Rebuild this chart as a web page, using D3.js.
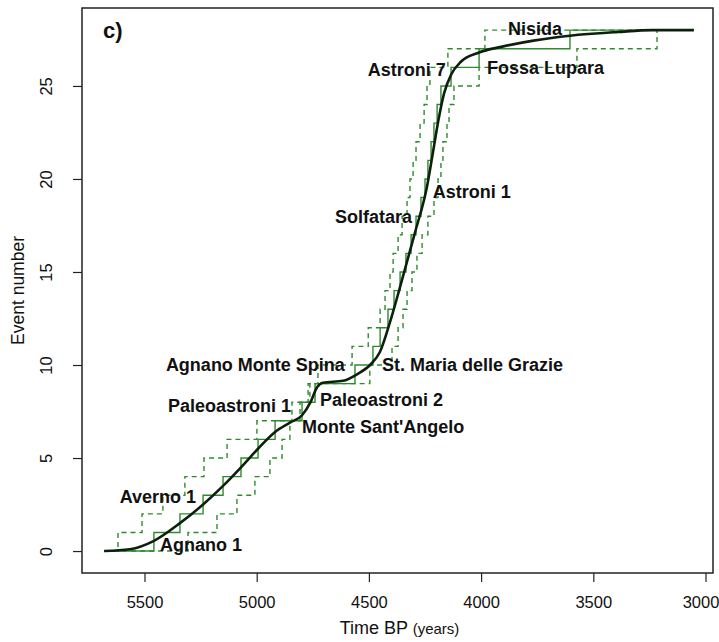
<!DOCTYPE html>
<html>
<head>
<meta charset="utf-8">
<script src="https://cdn.jsdelivr.net/npm/d3@7"></script>
<style>
body { margin: 0; background: #fff; }
svg { display: block; }
text { font-family: "Liberation Sans", Arial, sans-serif; fill: #111; }
</style>
</head>
<body>
<svg width="719" height="642"></svg>
<script>
var width = 719;
var height = 642;

// first / last time of the record (years BP)
var tStart = 5680;
var tEnd = 3052;

// time of each event (1..28), median and bounds
var medianTimes = [5458, 5342, 5239, 5150, 5070, 4994, 4918, 4798, 4740, 4562,
    4482, 4450, 4415, 4388, 4361, 4335, 4312, 4290, 4268, 4250,
    4237, 4223, 4210, 4196, 4179, 4134, 4009, 3604];
var lowerTimes = [5618, 5511, 5418, 5320, 5235, 5132, 4999, 4843, 4771, 4727,
    4575, 4503, 4450, 4428, 4406, 4392, 4370, 4352, 4330, 4317,
    4303, 4290, 4272, 4254, 4241, 4228, 4148, 3983];
var upperTimes = [5306, 5177, 5088, 5008, 4941, 4887, 4852, 4807, 4763, 4496,
    4397, 4370, 4348, 4330, 4308, 4286, 4263, 4237, 4210, 4192,
    4179, 4170, 4152, 4143, 4121, 4009, 3573, 3216];

// smoothed rate curve
var curveTimes = [5680, 5565, 5458, 5342, 5239, 5150, 5070, 4994, 4918, 4852,
    4798, 4760, 4731, 4705, 4615, 4553, 4495, 4451, 4406, 4361,
    4295, 4241, 4215, 4188, 4165, 4134, 4090, 4009, 3911, 3760,
    3604, 3390, 3239, 3052];
var curveEvents = [0, 0.1, 0.55, 1.5, 2.5, 3.5, 4.5, 5.5, 6.4, 6.9,
    7.3, 8.0, 8.8, 9.05, 9.15, 9.5, 10.0, 10.7, 12.3, 14.2,
    17.1, 19.6, 21.4, 23.3, 24.6, 25.6, 26.3, 26.8, 27.1, 27.45,
    27.7, 27.9, 28.0, 28.0];

// eruption labels: name, time, event level, which side of the anchor
var labelNames = ["Agnano 1", "Averno 1", "Paleoastroni 1", "Monte Sant'Angelo",
    "Paleoastroni 2", "Agnano Monte Spina", "St. Maria delle Grazie",
    "Solfatara", "Astroni 1", "Astroni 7", "Fossa Lupara", "Nisida"];
var labelTimes = [5431, 5270, 4847, 4798, 4718, 4607, 4442, 4308, 4215, 4157, 3974, 3880];
var labelEvents = [0.32, 2.9, 7.8, 6.67, 8.12, 10.0, 10.0, 17.96, 19.3, 25.86, 25.97, 28.06];
var labelSides = ["right", "left", "left", "right", "right", "left", "right",
    "left", "right", "left", "right", "right"];

var xTicks = [5500, 5000, 4500, 4000, 3500, 3000];
var yTicks = [0, 5, 10, 15, 20, 25];

//----------------------------------------------------------------------------
// scales
//----------------------------------------------------------------------------
var plot = {left: 82, right: 713, top: 8, bottom: 573};

var x = d3.scaleLinear()
    .domain([5778.5, 2966.6])
    .range([plot.left, plot.right]);

var y = d3.scaleLinear()
    .domain([-1.18, 29.19])
    .range([plot.bottom, plot.top]);

var svg = d3.select("svg");

//----------------------------------------------------------------------------
// step functions + curve
//----------------------------------------------------------------------------
function stepPoints(times) {
    var pts = [[tStart, 0]];
    times.forEach(function(t, i) { pts.push([t, i + 1]); });
    pts.push([tEnd, times.length]);
    return pts;
}

var stepLine = d3.line()
    .x(function(d) { return x(d[0]); })
    .y(function(d) { return y(d[1]); })
    .curve(d3.curveStepAfter);

var green = "#2f8a2f";

[lowerTimes, upperTimes].forEach(function(times) {
    svg.append("path")
        .attr("d", stepLine(stepPoints(times)))
        .attr("fill", "none")
        .attr("stroke", green)
        .attr("stroke-width", 1.4)
        .attr("stroke-dasharray", "5,4");
});

svg.append("path")
    .attr("d", stepLine(stepPoints(medianTimes)))
    .attr("fill", "none")
    .attr("stroke", green)
    .attr("stroke-width", 1.4);

var smooth = d3.line()
    .x(function(d, i) { return x(curveTimes[i]); })
    .y(function(d) { return y(d); })
    .curve(d3.curveMonotoneX);

svg.append("path")
    .attr("d", smooth(curveEvents))
    .attr("fill", "none")
    .attr("stroke", "#0d1f0d")
    .attr("stroke-width", 2.6)
    .attr("stroke-linejoin", "round");

//----------------------------------------------------------------------------
// labels
//----------------------------------------------------------------------------
svg.selectAll("text.lab")
    .data(labelNames)
    .enter()
    .append("text")
    .attr("class", "lab")
    .attr("x", function(d, i) { return x(labelTimes[i]); })
    .attr("y", function(d, i) { return y(labelEvents[i]); })
    .attr("dy", "0.35em")
    .attr("text-anchor", function(d, i) { return labelSides[i] == "left" ? "end" : "start"; })
    .style("font-size", "18px")
    .style("font-weight", "bold")
    .text(function(d) { return d; });

svg.append("text")
    .attr("x", 103)
    .attr("y", 30)
    .attr("dy", "0.35em")
    .style("font-size", "22px")
    .style("font-weight", "bold")
    .text("c)");

//----------------------------------------------------------------------------
// axes + box
//----------------------------------------------------------------------------
var xAxis = svg.append("g")
    .attr("transform", "translate(0," + plot.bottom + ")")
    .call(d3.axisBottom(x).tickValues(xTicks).tickSize(9).tickPadding(14).tickFormat(d3.format("d")));
xAxis.select(".domain").remove();
// last label would run past the page edge
xAxis.selectAll(".tick text").filter(function(d) { return d == 3000; })
    .attr("dx", -5);

var yAxis = svg.append("g")
    .attr("transform", "translate(" + plot.left + ",0)")
    .call(d3.axisLeft(y).tickValues(yTicks).tickSize(9).tickFormat(d3.format("d")));
yAxis.select(".domain").remove();
yAxis.selectAll(".tick text")
    .attr("x", 0).attr("dy", 0)
    .attr("text-anchor", "middle")
    .attr("transform", "translate(-30,0) rotate(-90)");

[xAxis, yAxis].forEach(function(g) {
    g.selectAll(".tick line").attr("stroke", "#222").attr("stroke-width", 1.2);
    g.selectAll(".tick text")
        .style("font-size", "16.5px")
        .style("font-family", "'Liberation Sans', Arial, sans-serif")
        .attr("fill", "#222");
});

svg.append("rect")
    .attr("x", plot.left)
    .attr("y", plot.top)
    .attr("width", plot.right - plot.left)
    .attr("height", plot.bottom - plot.top)
    .attr("fill", "none")
    .attr("stroke", "#222")
    .attr("stroke-width", 1.5);

var xt = svg.append("text")
    .attr("x", (plot.left + plot.right) / 2 + 2)
    .attr("y", 634)
    .attr("text-anchor", "middle")
    .style("font-size", "18px");
xt.append("tspan").text("Time BP ");
xt.append("tspan").style("font-size", "15px").text("(years)");

svg.append("text")
    .attr("transform", "translate(24," + ((plot.top + plot.bottom) / 2) + ") rotate(-90)")
    .attr("text-anchor", "middle")
    .style("font-size", "17.5px")
    .text("Event number");
</script>
</body>
</html>
